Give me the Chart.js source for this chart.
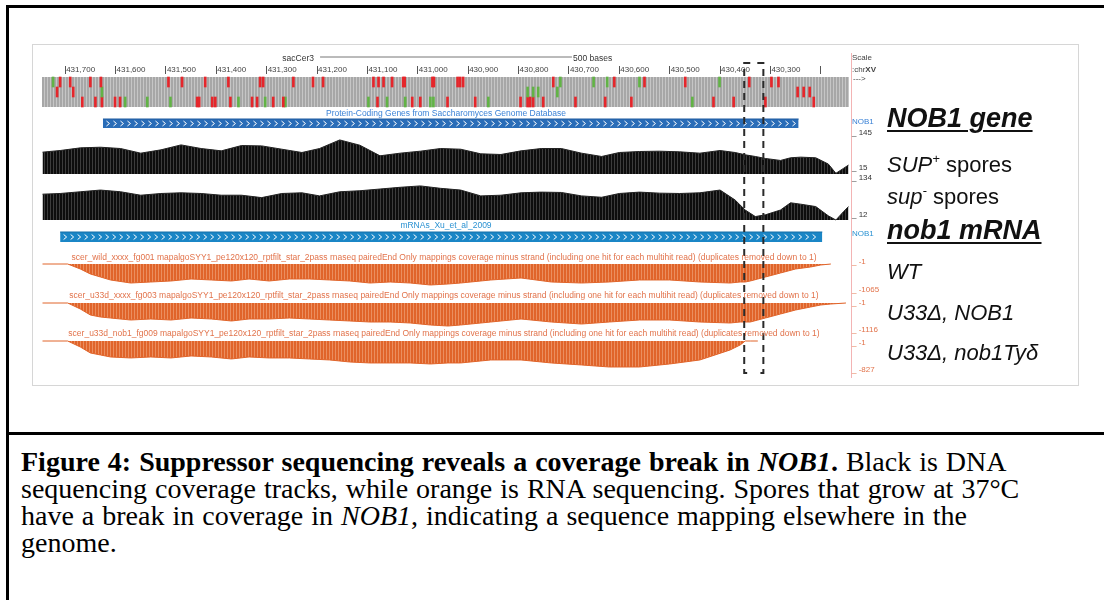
<!DOCTYPE html>
<html>
<head>
<meta charset="utf-8">
<script src="https://cdn.jsdelivr.net/npm/chart.js@4.4.1/dist/chart.umd.min.js"></script>
<style>
  body { margin: 0; width: 1104px; height: 600px; position: relative; background: #fff; overflow: hidden;
         font-family: "Liberation Sans", Arial, sans-serif; }
  .abs { position: absolute; white-space: nowrap; }
  .rule { position: absolute; background: #000; }
  .small { font-size: 8px; line-height: 10px; color: #333; }
  .title { font-size: 8.5px; line-height: 10px; width: 800px; text-align: center; }
  .big { font-size: 22px; line-height: 22px; font-style: italic; color: #111; }
  .head { font-size: 27px; line-height: 27px; font-style: italic; font-weight: bold; color: #111;
          text-decoration: underline; text-decoration-thickness: 2px; text-underline-offset: 3px; }
  .up { font-size: 13px; position: relative; top: -9px; }
  #browser { position: absolute; left: 32px; top: 44px; width: 1045px; height: 340px; border: 1px solid #d6d6d6; }
  .caption { font-family: "Liberation Serif", "Times New Roman", serif; font-size: 28px; line-height: 27px;
             word-spacing: 1px; color: #000; }
</style>
</head>
<body>

<div class="rule" style="left:6px;top:5px;width:1098px;height:3px"></div>
<div class="rule" style="left:6px;top:5px;width:3px;height:595px"></div>
<div class="rule" style="left:6px;top:432px;width:1098px;height:3px"></div>

<div id="browser"><canvas id="tracks"></canvas></div>

<!-- pink separator of the browser label column -->
<div class="abs" style="left:851px;top:53px;width:1px;height:325px;background:#f3b4b4"></div>

<!-- ruler texts -->
<div class="abs small" style="left:214px;top:53px;width:100px;text-align:right;font-size:8.5px">sacCer3</div>
<div class="abs small" style="left:573px;top:53px;font-size:8.5px">500 bases</div>
<div class="abs small" style="left:852px;top:53px;color:#444">Scale</div>
<div class="abs small" style="left:852px;top:65px;color:#444">:chr<b>XV</b></div>
<div class="abs small" style="left:853px;top:74px;color:#444">---&gt;</div>

<!-- track titles -->
<div class="abs title" style="left:46px;top:108px;color:#3b82d6">Protein-Coding Genes from Saccharomyces Genome Database</div>
<div class="abs title" style="left:46px;top:220px;color:#2b92d2">mRNAs_Xu_et_al_2009</div>
<div class="abs title" style="left:44px;top:252px;color:#e2734b">scer_wild_xxxx_fg001 mapalgoSYY1_pe120x120_rptfilt_star_2pass rnaseq pairedEnd Only mappings coverage minus strand (including one hit for each multihit read) (duplicates removed down to 1)</div>
<div class="abs title" style="left:44px;top:290px;color:#e2734b">scer_u33d_xxxx_fg003 mapalgoSYY1_pe120x120_rptfilt_star_2pass rnaseq pairedEnd Only mappings coverage minus strand (including one hit for each multihit read) (duplicates removed down to 1)</div>
<div class="abs title" style="left:44px;top:328px;color:#e2734b">scer_u33d_nob1_fg009 mapalgoSYY1_pe120x120_rptfilt_star_2pass rnaseq pairedEnd Only mappings coverage minus strand (including one hit for each multihit read) (duplicates removed down to 1)</div>

<!-- track range labels -->
<div class="abs small" style="left:852px;top:117px;color:#3b82d6">NOB1</div>
<div class="abs small" style="left:852px;top:128px">_ 145</div>
<div class="abs small" style="left:852px;top:163px">_ 15</div>
<div class="abs small" style="left:852px;top:173px">_ 134</div>
<div class="abs small" style="left:852px;top:210px">_ 12</div>
<div class="abs small" style="left:852px;top:229px;color:#2b92d2">NOB1</div>
<div class="abs small" style="left:852px;top:257px;color:#e2734b">_ -1</div>
<div class="abs small" style="left:852px;top:285px;color:#e2734b">_ -1065</div>
<div class="abs small" style="left:852px;top:298px;color:#e2734b">_ -1</div>
<div class="abs small" style="left:852px;top:325px;color:#e2734b">_ -1116</div>
<div class="abs small" style="left:852px;top:338px;color:#e2734b">_ -1</div>
<div class="abs small" style="left:852px;top:365px;color:#e2734b">_ -827</div>

<!-- figure annotations -->
<div class="abs head" style="left:887px;top:105px">NOB1 gene</div>
<div class="abs big" style="left:887px;top:154px"><i>SUP</i><span class="up">+</span><span style="font-style:normal"> spores</span></div>
<div class="abs big" style="left:887px;top:186px"><i>sup</i><span class="up">-</span><span style="font-style:normal"> spores</span></div>
<div class="abs head" style="left:887px;top:217px">nob1 mRNA</div>
<div class="abs big" style="left:887px;top:261px">WT</div>
<div class="abs big" style="left:887px;top:302px">U33Δ, NOB1</div>
<div class="abs big" style="left:887px;top:342px">U33Δ, nob1Tyδ</div>

<div class="abs caption" style="left:21px;top:448px"><b>Figure 4: Suppressor sequencing reveals a coverage break in <i>NOB1</i>.</b> Black is DNA<br>sequencing coverage tracks, while orange is RNA sequencing. Spores that grow at 37°C<br>have a break in coverage in <i>NOB1</i>, indicating a sequence mapping elsewhere in the<br>genome.</div>

<script>
// window shown by the browser (chrXV, reversed)
const viewStart = 431746;
const viewEnd = 430144;
const rulerTicks = [430200, 430300, 430400, 430500, 430600, 430700, 430800, 430900, 431000, 431100, 431200, 431300,
  431400, 431500, 431600, 431700];
const scaleBarStart = 431194;
const scaleBarBases = 500;

// gene models
const nob1Gene = [431625, 430244];
const nob1Mrna = [431710, 430197];

// dashed region of the break
const breakLeft = 430352;
const breakRight = 430314;

// conservation / SNP marks, 3 rows
const snpRow1Red = [431710, 431690, 431650, 431629, 431495, 431468, 431422, 431376, 431313, 431307, 431247, 431208, 431188,
  431088, 431078, 431068, 431051, 431029, 431026, 430971, 430968, 430921, 430916, 430910, 430731, 430610, 430550, 430469,
  430342, 430298, 430284];
const snpRow1Green = [431724, 430717, 430651, 430624, 430560, 430401];
const snpRow2Red = [431716, 431684, 430246, 430234, 430222];
const snpRow2Green = [431627, 430782, 430771, 430761, 430723];
const snpRow3Red = [431666, 431640, 431627, 431601, 431591, 431438, 431434, 431408, 431402, 431372, 431329, 431319, 431287,
  431267, 431080, 431011, 430995, 430941, 430886, 430796, 430782, 430777, 430771, 430751, 430687, 430628, 430576, 430413,
  430373, 430310, 430214];
const snpRow3Green = [431581, 431537, 431491, 431356, 431303, 431263, 431098, 431061, 431025, 430975, 430969, 430860, 430455];

// DNA coverage (black tracks)
const dnaPos = [431745, 431710, 431670, 431630, 431590, 431550, 431510, 431470, 431430, 431390, 431350, 431310, 431270,
  431230, 431195, 431155, 431115, 431075, 431035, 430995, 430955, 430915, 430875, 430835, 430795, 430755, 430715, 430675,
  430635, 430600, 430560, 430520, 430480, 430440, 430400, 430370, 430350, 430330, 430310, 430280, 430260, 430240, 430210,
  430185, 430170, 430155, 430145];
const supPlusCov = [81, 86, 94, 96, 92, 78, 88, 103, 92, 85, 101, 100, 90, 80, 92, 118, 102, 70, 78, 84, 92, 90, 76, 74, 85,
  92, 92, 78, 68, 80, 83, 84, 82, 78, 86, 80, 73, 68, 62, 56, 64, 66, 64, 45, 17, 32, 42];
const supMinusCov = [87, 89, 94, 99, 94, 84, 89, 91, 89, 84, 84, 77, 89, 91, 82, 94, 97, 102, 107, 111, 104, 99, 82, 84, 91,
  93, 92, 82, 78, 89, 93, 90, 89, 91, 99, 70, 41, 22, 27, 41, 62, 58, 51, 24, 12, 36, 51];

// RNA coverage, minus strand (orange tracks)
const rnaPos = [431745, 431695, 431670, 431650, 431630, 431610, 431570, 431530, 431490, 431450, 431410, 431370, 431335,
  431295, 431255, 431215, 431175, 431135, 431095, 431055, 431015, 430975, 430940, 430915, 430855, 430795, 430735, 430675,
  430620, 430560, 430500, 430440, 430380, 430360, 430350, 430340, 430325, 430310, 430280, 430250, 430220, 430200, 430180,
  430150];
const wtCov = [-1, -1, -242, -484, -629, -774, -920, -871, -823, -726, -774, -823, -726, -823, -726, -726, -774, -823, -920,
  -871, -920, -1016, -968, -920, -774, -678, -871, -920, -871, -774, -774, -871, -920, -871, -871, -823, -726, -629, -436,
  -242, -145, -48, -1, null];
const u33Cov = [-1, -1, -279, -558, -651, -698, -791, -744, -791, -698, -744, -837, -744, -744, -698, -744, -791, -837, -884,
  -884, -930, -1023, -1070, -1023, -884, -744, -884, -977, -884, -791, -791, -884, -930, -884, -884, -884, -791, -698, -512,
  -326, -186, -93, -47, -1];
const nob1TyCov = [-1, -1, -184, -367, -428, -490, -520, -490, -520, -459, -490, -551, -490, -520, -520, -551, -581, -643,
  -673, -673, -673, -704, -673, -673, -581, -581, -673, -734, -796, -796, -704, -581, -275, -122, -1, -1, -1, null, null,
  null, null, null, null, null];

// ---- layout of the stacked tracks (page pixels) ----
const plotTop = 74, plotBottom = 380;
function band(yTop, yBot, vTop, vBot) {
  const s = (vTop - vBot) / (yBot - yTop);
  return { display: false, min: vBot - (plotBottom - yBot) * s, max: vTop + (yTop - plotTop) * s };
}

function stripes(base, line) {
  const c = document.createElement('canvas');
  c.width = 3; c.height = 1;
  const g = c.getContext('2d');
  g.fillStyle = base; g.fillRect(0, 0, 3, 1);
  g.fillStyle = line; g.fillRect(2, 0, 1, 1);
  return g.createPattern(c, 'repeat');
}

const xy = (xs, ys) => xs.map((x, i) => ({ x: x, y: ys[i] }));
const marks = (xs, lo, hi) => xs.map(x => ({ x: x, y: [lo, hi] }));
const flat = (xs, y) => xs.map(x => ({ x: x, y: y }));

function snpSet(xs, lo, hi, color) {
  return { type: 'bar', yAxisID: 'ySnp', data: marks(xs, lo, hi), backgroundColor: color, borderWidth: 0,
           barThickness: 2, grouped: false };
}

function geneSet(ends, axis, color, edge) {
  return { yAxisID: axis, data: flat(ends, 1), fill: { value: 0 }, backgroundColor: color, borderColor: edge,
           borderWidth: 1, chevrons: true };
}

function covSet(xs, ys, axis, base, fillCol, lineCol) {
  return { yAxisID: axis, data: xy(xs, ys), fill: { value: base }, backgroundColor: fillCol, borderColor: lineCol,
           borderWidth: 1 };
}

const chevronPlugin = {
  id: 'chevrons',
  afterDatasetDraw(chart, args) {
    const ds = chart.data.datasets[args.index];
    if (!ds.chevrons) return;
    const pts = args.meta.data;
    const x0 = Math.min(pts[0].x, pts[1].x), x1 = Math.max(pts[0].x, pts[1].x);
    const ys = chart.scales[ds.yAxisID];
    const cy = (ys.getPixelForValue(0) + ys.getPixelForValue(1)) / 2;
    const ctx = chart.ctx;
    ctx.save();
    ctx.strokeStyle = '#fff';
    ctx.lineWidth = 1;
    ctx.beginPath();
    for (let x = x0 + 5; x < x1 - 3; x += 7) {
      ctx.moveTo(x - 1.5, cy - 2.5);
      ctx.lineTo(x + 1.5, cy);
      ctx.lineTo(x - 1.5, cy + 2.5);
    }
    ctx.stroke();
    ctx.restore();
  }
};

Chart.defaults.font.family = "'Liberation Sans', Arial, sans-serif";

const red = '#e5262b', green = '#62b346';
const boxStub = 12;

new Chart(document.getElementById('tracks'), {
  type: 'line',
  data: {
    datasets: [
      { yAxisID: 'yBox', clip: false, borderColor: '#2a2a2a', borderWidth: 2, borderDash: [7, 5],
        data: [{ x: breakLeft - boxStub, y: 1 }, { x: breakLeft, y: 1 }, { x: breakLeft, y: 0 }, { x: breakLeft - boxStub, y: 0 }] },
      { yAxisID: 'yBox', clip: false, borderColor: '#2a2a2a', borderWidth: 2, borderDash: [7, 5],
        data: [{ x: breakRight + boxStub, y: 1 }, { x: breakRight, y: 1 }, { x: breakRight, y: 0 }, { x: breakRight + boxStub, y: 0 }] },
      { yAxisID: 'yBar', clip: false, borderColor: '#777', borderWidth: 1,
        pointRadius: 4, pointStyle: 'line', rotation: 90, pointBorderColor: '#555', pointBorderWidth: 1,
        data: flat([scaleBarStart, scaleBarStart - scaleBarBases], 0) },
      geneSet(nob1Gene, 'yGene', '#2a6db8', '#1f5a9e'),
      geneSet(nob1Mrna, 'yMrna', '#1a86c6', '#156fa6'),
      covSet(dnaPos, supPlusCov, 'ySup', 15, stripes('#0d0d0d', '#3c3c3c'), '#222'),
      covSet(dnaPos, supMinusCov, 'ySupm', 12, stripes('#0d0d0d', '#3c3c3c'), '#222'),
      covSet(rnaPos, wtCov, 'yWt', -1, stripes('#e0642a', '#eb8e5f'), '#e0642a'),
      covSet(rnaPos, u33Cov, 'yU33', -1, stripes('#e0642a', '#eb8e5f'), '#e0642a'),
      covSet(rnaPos, nob1TyCov, 'yNob', -1, stripes('#e0642a', '#eb8e5f'), '#e0642a'),
      snpSet(snpRow1Red, 2, 3, red),
      snpSet(snpRow1Green, 2, 3, green),
      snpSet(snpRow2Red, 1, 2, red),
      snpSet(snpRow2Green, 1, 2, green),
      snpSet(snpRow3Red, 0, 1, red),
      snpSet(snpRow3Green, 0, 1, green),
      { yAxisID: 'ySnp', data: flat([viewStart, viewEnd], 3), fill: { value: 0 },
        backgroundColor: stripes('#a7a7a7', '#c6c6c6'), borderColor: 'rgba(0,0,0,0)', borderWidth: 1 }
    ]
  },
  options: {
    responsive: true,
    maintainAspectRatio: false,
    animation: false,
    events: [],
    layout: { padding: { left: 9, right: 229, top: 0, bottom: 5 } },
    elements: { point: { radius: 0 }, line: { tension: 0 } },
    plugins: { legend: { display: false }, tooltip: { enabled: false } },
    scales: {
      x: {
        type: 'linear', position: 'top', reverse: true, min: viewEnd, max: viewStart, offset: false,
        afterBuildTicks: s => { s.ticks = rulerTicks.map(v => ({ value: v })); },
        afterFit: s => { s.height = 29; },
        border: { display: false },
        grid: { drawOnChartArea: false, tickLength: 8, color: '#555', offset: false },
        ticks: {
          autoSkip: false, maxRotation: 0, align: 'start',
          padding: -9, labelOffset: 1, color: '#444', font: { size: 8 },
          callback: v => v === 430200 ? '' : v.toLocaleString('en-US')
        }
      },
      ySnp: band(77, 107, 3, 0),
      yGene: band(119, 128, 1, 0),
      ySup: band(131, 174, 145, 15),
      ySupm: band(178, 220, 134, 12),
      yMrna: band(232, 242, 1, 0),
      yWt: band(264, 286, -1, -1065),
      yU33: band(303, 327, -1, -1116),
      yNob: band(341, 368, -1, -827),
      yBox: band(63, 373, 1, 0),
      yBar: band(52, 62, 1, -1)
    }
  },
  plugins: [chevronPlugin]
});
</script>
</body>
</html>
